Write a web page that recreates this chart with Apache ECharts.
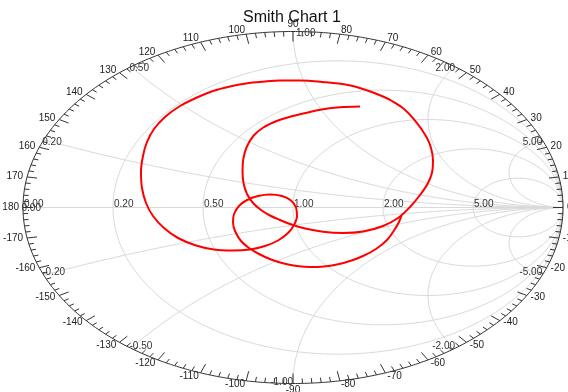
<!DOCTYPE html>
<html><head><meta charset="utf-8">
<script src="https://cdn.jsdelivr.net/npm/echarts@6/dist/echarts.min.js"></script>
<style>html,body{margin:0;padding:0;background:#fff}#c{width:568px;height:392px}</style>
</head><body><div id="c"></div>
<script>
// ---- data ----
const titleText = 'Smith Chart 1';
const resistanceCircles = [0.2, 0.5, 1, 2, 5];
const reactanceArcs = [0.2, 0.5, 1, 2, 5, -0.2, -0.5, -1, -2, -5];
const resistanceLabelValues = [0, 0.2, 0.5, 1, 2, 5];
const reactanceLabelValues = [0, 0.2, 0.5, 1, 2, 5, -0.2, -0.5, -1, -2, -5];
const angleLabels = [-170,-160,-150,-140,-130,-120,-110,-100,-90,-80,-70,-60,-50,-40,-30,-20,-10,
                     0,10,20,30,40,50,60,70,80,90,100,110,120,130,140,150,160,170,180];
const curveRe = [0.2481,0.1741,0.1111,0.0507,-0.0111,-0.0604,-0.1100,-0.1470,-0.1715,-0.1841,
  -0.1870,-0.1833,-0.1704,-0.1481,-0.1185,-0.0852,-0.0481,-0.0111,0.0370,0.1111,
  0.1852,0.2593,0.3333,0.3889,0.4333,0.4704,0.5000,0.5167,0.5185,0.5111,
  0.4944,0.4593,0.4111,0.3667,0.3333,0.2704,0.2037,0.1111,0.0259,-0.0481,-0.1111,
  -0.1741,-0.2333,-0.2963,-0.3556,-0.4185,-0.4741,-0.5148,-0.5407,-0.5556,-0.5630,
  -0.5593,-0.5444,-0.5185,-0.4778,-0.4259,-0.3593,-0.2926,-0.2259,-0.1593,-0.1037,
  -0.0556,-0.0185,0.0037,0.0148,0.0111,-0.0074,-0.0407,-0.0852,-0.1296,-0.1704,
  -0.2000,-0.2185,-0.2222,-0.2148,-0.1926,-0.1630,-0.1259,-0.0815,-0.0333,0.0148,
  0.0630,0.1148,0.1630,0.2111,0.2593,0.3074,0.3481,0.3741,0.3926,0.4037];
const curveIm = [0.5739,0.5693,0.5580,0.5386,0.5159,0.4915,0.4545,0.4063,0.3438,0.2756,
  0.2074,0.1392,0.0767,0.0256,-0.0142,-0.0455,-0.0710,-0.0938,-0.1165,-0.1375,
  -0.1449,-0.1364,-0.1051,-0.0597,0.0028,0.0710,0.1392,0.2131,0.2699,0.3381,
  0.4006,0.4801,0.5597,0.6051,0.6307,0.6676,0.6960,0.7131,0.7216,0.7216,0.7148,
  0.7045,0.6875,0.6619,0.6250,0.5767,0.5142,0.4460,0.3722,0.2926,0.2017,
  0.1108,0.0256,-0.0483,-0.1165,-0.1733,-0.2159,-0.2386,-0.2443,-0.2386,-0.2188,
  -0.1875,-0.1449,-0.0994,-0.0483,0.0000,0.0398,0.0653,0.0739,0.0653,0.0426,
  0.0085,-0.0369,-0.0824,-0.1335,-0.1903,-0.2301,-0.2642,-0.2955,-0.3182,-0.3324,
  -0.3381,-0.3352,-0.3239,-0.3040,-0.2756,-0.2358,-0.1847,-0.1307,-0.0824,-0.0369];

// ---- helpers ----
const fmt = v => v.toFixed(2);
function gamma(r, x) {
  const den = (r + 1) * (r + 1) + x * x;
  return [(r * r + x * x - 1) / den, 2 * x / den];
}
const GRID = '#d9d9d9';
const LABEL_FONT = '10px "Liberation Sans", Arial, sans-serif';
const series = [];

function gridLine(pts) {
  series.push({type: 'line', data: pts, showSymbol: false, silent: true, smooth: false,
    lineStyle: {color: GRID, width: 1}, z: 1, animation: false});
}
// real axis
gridLine([[-1, 0], [1, 0]]);
// constant resistance circles
resistanceCircles.forEach(r => {
  const pts = [];
  for (let i = 0; i <= 360; i++) {
    const t = i * Math.PI / 180;
    pts.push([r / (1 + r) + Math.cos(t) / (1 + r), Math.sin(t) / (1 + r)]);
  }
  gridLine(pts);
});
// constant reactance arcs
reactanceArcs.forEach(x => {
  const pts = [];
  for (let i = 0; i < 400; i++) {
    const r = Math.tan(i / 400 * Math.PI / 2);
    pts.push(gamma(r, x));
  }
  pts.push([1, 0]);
  gridLine(pts);
});
// outer ring
(function () {
  const pts = [];
  for (let i = 0; i <= 720; i++) {
    const t = i / 2 * Math.PI / 180;
    pts.push([Math.cos(t), Math.sin(t)]);
  }
  series.push({type: 'line', data: pts, showSymbol: false, silent: true,
    lineStyle: {color: '#333', width: 1}, z: 3, animation: false});
})();

function radialDir(api, a) {
  const p = api.coord([Math.cos(a), Math.sin(a)]);
  const c = api.coord([0, 0]);
  let dx = p[0] - c[0], dy = p[1] - c[1];
  const L = Math.hypot(dx, dy);
  return {p, dx: dx / L, dy: dy / L};
}
// ticks every 2 degrees
const tickData = [];
for (let d = -178; d <= 180; d += 2) tickData.push([0, 0, d]);
series.push({type: 'custom', silent: true, z: 4, animation: false,
  data: tickData,
  renderItem: (params, api) => {
    const deg = api.value(2);
    const a = deg * Math.PI / 180;
    const {p, dx, dy} = radialDir(api, a);
    const len = (Math.round(deg) % 10 === 0) ? 10 : 5;
    return {type: 'line', shape: {x1: p[0], y1: p[1], x2: p[0] - dx * len, y2: p[1] - dy * len},
      style: {stroke: '#333', lineWidth: 1}};
  }});
// angle labels
series.push({type: 'custom', silent: true, z: 5, animation: false,
  data: angleLabels.map(d => [0, 0, d]),
  renderItem: (params, api) => {
    const deg = api.value(2);
    const a = deg * Math.PI / 180;
    const {p, dx, dy} = radialDir(api, a);
    const cs = Math.cos(a), sn = Math.sin(a);
    let align = cs < -0.02 ? 'right' : (cs > 0.02 ? 'left' : 'center');
    let va = 'middle', gap = 4;
    if (Math.abs(cs) <= 0.02) { va = sn > 0 ? 'bottom' : 'top'; gap = 2; }
    return {type: 'text', x: p[0] + dx * gap, y: p[1] + dy * gap,
      style: {text: String(angleLabels[params.dataIndex]), fill: '#222', font: LABEL_FONT,
        align: align, verticalAlign: va, textAlign: align, textVerticalAlign: va}};
  }});
// resistance labels on the real axis
series.push({type: 'custom', silent: true, z: 5, animation: false,
  data: resistanceLabelValues.map(r => [(r - 1) / (r + 1), 0]),
  renderItem: (params, api) => {
    const p = api.coord([api.value(0), api.value(1)]);
    return {type: 'text', x: p[0] + 1, y: p[1] - 3.5,
      style: {text: fmt(resistanceLabelValues[params.dataIndex]), fill: '#333', font: LABEL_FONT,
        align: 'left', verticalAlign: 'middle', textAlign: 'left', textVerticalAlign: 'middle'}};
  }});
// reactance labels on the ring
series.push({type: 'custom', silent: true, z: 5, animation: false,
  data: reactanceLabelValues.map(x => gamma(0, x)),
  renderItem: (params, api) => {
    const u = api.value(0), v = api.value(1);
    const p = api.coord([u, v]);
    let align, ox, oy;
    if (Math.abs(u) < 1e-6) {
      if (v > 0) { align = 'left'; ox = 3; oy = 2; } else { align = 'right'; ox = 0; oy = -1.5; }
    } else if (u < 0) {
      align = 'left'; ox = -1.5; oy = v > 1e-6 ? 2 : (v < -1e-6 ? -2.5 : 1);
    } else {
      align = 'right'; ox = 0; oy = v > 0 ? 2 : -2.5;
    }
    return {type: 'text', x: p[0] + ox, y: p[1] + oy,
      style: {text: fmt(reactanceLabelValues[params.dataIndex]), fill: '#333', font: LABEL_FONT,
        align: align, verticalAlign: 'middle', textAlign: align, textVerticalAlign: 'middle'}};
  }});
// the trace
series.push({type: 'line', data: curveRe.map((u, i) => [u, curveIm[i]]), showSymbol: false,
  smooth: 0.35, silent: true, z: 6, animation: false,
  lineStyle: {color: '#ff0000', width: 2}});

const chart = echarts.init(document.getElementById('c'), null, {renderer: 'canvas'});
chart.setOption({
  animation: false,
  backgroundColor: '#ffffff',
  title: {text: titleText, left: 243, top: 10, padding: 0,
    textStyle: {fontFamily: '"Liberation Sans", Arial, sans-serif', fontSize: 16, fontWeight: 'normal', color: '#111'}},
  grid: {left: 23, right: 5, top: 31.5, bottom: 8.5, containLabel: false},
  xAxis: {type: 'value', min: -1, max: 1, show: false},
  yAxis: {type: 'value', min: -1, max: 1, show: false},
  series: series
});
</script>
</body></html>
